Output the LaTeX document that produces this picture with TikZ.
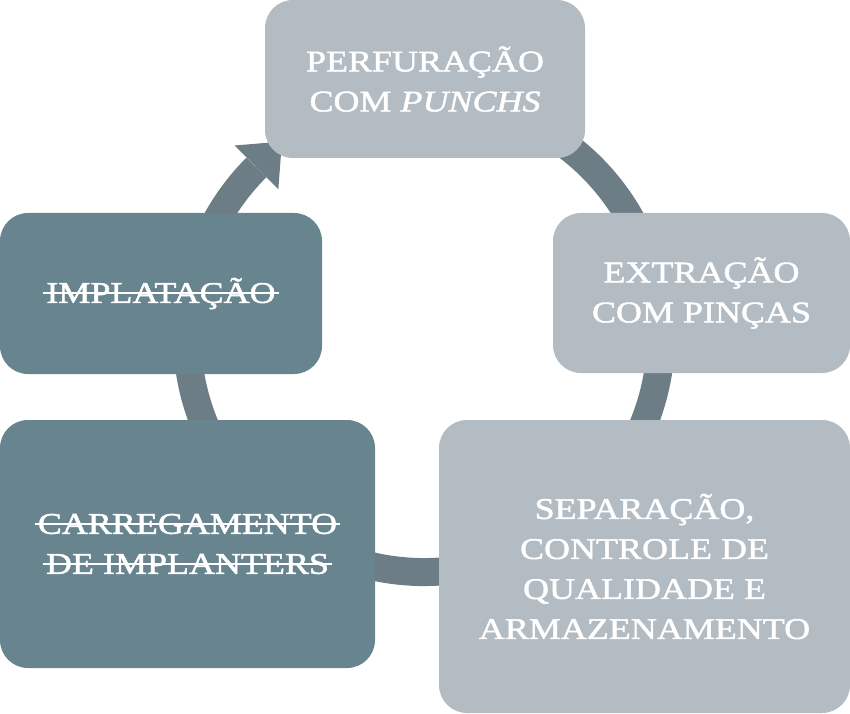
\documentclass[tikz,border=0pt]{standalone}
\usepackage{fontspec}
\setmainfont{Liberation Serif}[FakeStretch=1.2, FakeBold=1.6]
\usetikzlibrary{calc}
\definecolor{lightbox}{HTML}{B3BCC3}
\definecolor{darkbox}{HTML}{67848F}
\definecolor{ringcol}{HTML}{6D7D86}
\newcommand{\strk}[1]{\setbox0\hbox{#1}\leavevmode\rlap{\kern-3pt\rule[9pt]{\dimexpr\wd0+6pt\relax}{2pt}}\box0}
\tikzset{
  stepbox/.style={rounded corners=28pt, inner sep=0pt, align=center, text=white,
    font=\fontsize{30}{40}\selectfont},
  lightstep/.style={stepbox, fill=lightbox},
  darkstep/.style={stepbox, fill=darkbox},
}
\begin{document}
\begin{tikzpicture}[x=1pt,y=1pt]
\useasboundingbox (0,0) rectangle (850,713);
\coordinate (c) at (424,378);
% ring with arrow
\draw[ringcol, line width=28pt] ($(c)+(70:237)$) arc[start angle=70, end angle=-225, radius=237];
\fill[ringcol] ($(c)+(135:206)$) -- ($(c)+(135:268)$) -- ($(c)+(126.3:240)$) -- cycle;
% boxes
\node[lightstep, minimum width=320pt, minimum height=158pt] (perf) at (425,634)
  {PERFURAÇÃO\\COM \textit{PUNCHS}};
\node[lightstep, minimum width=297pt, minimum height=160pt] (extr) at (701.5,420)
  {EXTRAÇÃO\\COM PINÇAS};
\node[lightstep, minimum width=411pt, minimum height=293pt] (sep) at (644.5,146.5)
  {SEPARAÇÃO,\\CONTROLE DE\\QUALIDADE E\\ARMAZENAMENTO};
\node[darkstep, minimum width=375pt, minimum height=248pt] (carr) at (187.5,169)
  {\strk{CARREGAMENTO}\\\strk{DE IMPLANTERS}};
\node[darkstep, minimum width=322pt, minimum height=161pt] (impl) at (161,419.5)
  {\strk{IMPLATAÇÃO}};
\end{tikzpicture}
\end{document}
